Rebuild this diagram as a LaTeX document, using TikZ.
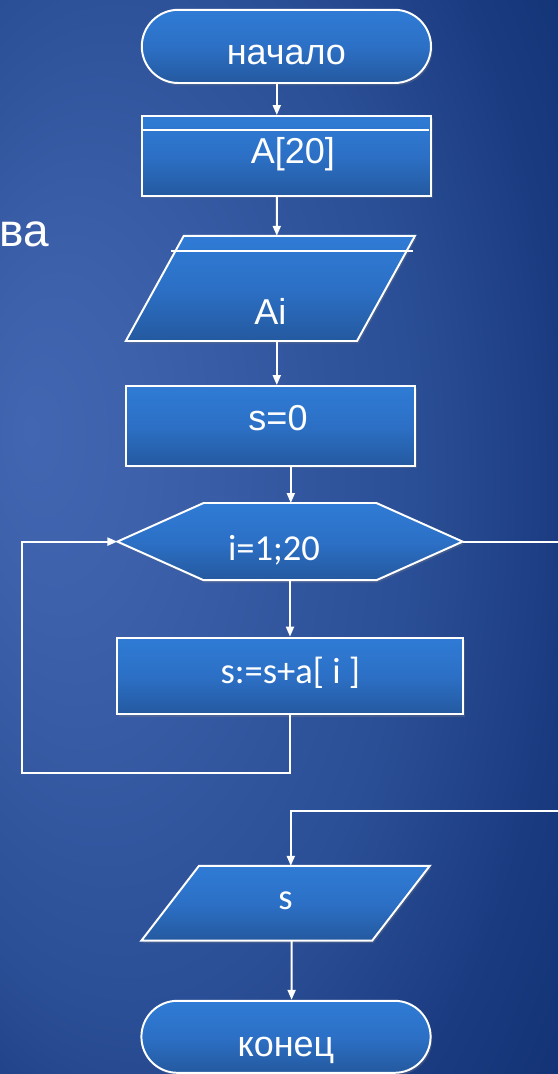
\documentclass[tikz,border=0pt]{standalone}
\usepackage{fontspec}
\setmainfont{Liberation Sans}
\newfontfamily\calibrifont{Carlito}
\usetikzlibrary{shapes.misc,shadows,arrows.meta}

\definecolor{boxtop}{HTML}{2F7BD5}
\definecolor{boxmid}{HTML}{2C70C6}
\definecolor{boxbot}{HTML}{24599F}
\definecolor{bgA}{HTML}{4266B1}
\definecolor{bgB}{HTML}{3D61AB}
\definecolor{bgC}{HTML}{2B4F96}
\definecolor{bgD}{HTML}{1B3B81}
\definecolor{bgE}{HTML}{0F2F70}
\definecolor{bgF}{HTML}{0C2B6A}

\pgfdeclareradialshading{slidebg}{\pgfpoint{-22.5bp}{5bp}}{color(0bp)=(bgA); color(7.5bp)=(bgB); color(25bp)=(bgC); color(35bp)=(bgD); color(45bp)=(bgE); color(60bp)=(bgF)}

\pgfdeclarelayer{bg}
\pgfdeclarelayer{boxes}
\pgfsetlayers{bg,boxes,main}

\begin{document}
\begin{tikzpicture}[
    block/.style={rectangle, draw=white, line width=1.4pt, top color=boxtop, bottom color=boxbot, middle color=boxmid,
      drop shadow={shadow xshift=0.04cm, shadow yshift=-0.06cm, opacity=0.3}, text=white, inner sep=0pt,
      minimum width=7.23cm, minimum height=2cm, text depth=0pt},
    holder/.style={rectangle, inner sep=0pt, outer sep=0pt, text=white, text depth=0pt},
    shapeline/.style={draw=white, line width=1.4pt, top color=boxtop, bottom color=boxbot, middle color=boxmid,
      drop shadow={shadow xshift=0.04cm, shadow yshift=-0.06cm, opacity=0.3}},
    arial/.style={font=\fontsize{25.6}{30}\selectfont},
    calibri/.style={font=\calibrifont\fontsize{26}{30}\selectfont},
    flow/.style={draw=white, line width=1.4pt, -{Triangle[length=0.25cm, width=0.2cm]}}
  ]
  \useasboundingbox (0,0) rectangle (13.95,-26.85);
  \begin{pgfonlayer}{bg}
    \shade[shading=slidebg] (0,0) rectangle (13.95,-26.85);
  \end{pgfonlayer}

  \begin{scope}
    \clip (0,0) rectangle (13.95,-26.85);

    \node[anchor=base west, inner sep=0pt, text=white, font=\fontsize{32.7}{36}\selectfont] (word) at (-0.02,-6.17) {ва};

    \node[block, rounded rectangle, minimum height=1.83cm, arial, text height=0.925cm] (start) at (7.16,-1.16) {начало};
    \node[block, arial, text height=0.365cm] (arr) at (7.16,-3.9) {\hspace*{0.32cm}A[20]};
    \node[holder, minimum width=5.78cm, minimum height=2.63cm, arial, text height=1.825cm] (input) at (6.76,-7.21) {Ai};
    \node[block, arial, text height=0.2cm] (init) at (6.77,-10.65) {\hspace*{0.36cm}s=0};
    \node[holder, minimum width=8.63cm, minimum height=1.93cm, calibri, text height=0.925cm] (loop) at (7.25,-13.54) {i=1;20\hspace*{0.8cm}};
    \node[block, minimum width=8.65cm, minimum height=1.92cm, calibri, text height=0.35cm] (body) at (7.26,-16.9) {s:=s+a[ i ]};
    \node[holder, minimum width=5.77cm, minimum height=1.87cm, calibri, text height=0.33cm] (output) at (7.14,-22.58) {s};
    \node[block, rounded rectangle, minimum height=1.8cm, arial, text height=1cm] (finish) at (7.15,-25.92) {конец};

    % outlines of the slanted and six-sided boxes
    \begin{pgfonlayer}{boxes}
      \path[shapeline] ([xshift=0.725cm]input.north west) -- ([xshift=0.725cm]input.north east)
        -- ([xshift=-0.725cm]input.south east) -- ([xshift=-0.725cm]input.south west) -- cycle;
      \path[shapeline] (loop.west) -- ([xshift=2.155cm]loop.north west) -- ([xshift=-2.155cm]loop.north east)
        -- (loop.east) -- ([xshift=-2.155cm]loop.south east) -- ([xshift=2.155cm]loop.south west) -- cycle;
      \path[shapeline] ([xshift=0.72cm]output.north west) -- ([xshift=0.72cm]output.north east)
        -- ([xshift=-0.72cm]output.south east) -- ([xshift=-0.72cm]output.south west) -- cycle;
    \end{pgfonlayer}
    \draw[white, line width=1pt] ([yshift=-0.375cm]arr.north west) -- ([xshift=-0.08cm,yshift=-0.375cm]arr.north east);
    \draw[white, line width=1pt] ([xshift=0.41cm,yshift=-0.375cm]input.north west) -- ([xshift=0.68cm,yshift=-0.375cm]input.north east);

    \coordinate (back) at (0.55,-19.32);
    \coordinate (exit) at (14.3,-20.27);

    \draw[flow] ([xshift=-0.24cm]start.south) -- ([xshift=-0.24cm]arr.north);
    \draw[flow] ([xshift=-0.24cm]arr.south) -- ([xshift=0.16cm]input.north);
    \draw[flow] ([xshift=0.16cm]input.south) -- ([xshift=0.15cm]init.north);
    \draw[flow] ([xshift=0.5cm]init.south) -- ([xshift=0.02cm]loop.north);
    \draw[flow] (loop.south) -- (loop.south |- body.north);
    \draw[flow] (body.south) |- (back) |- (loop.west);
    \draw[flow] (loop.east) -| (exit) -| ([xshift=0.13cm]output.north);
    \draw[flow] ([xshift=0.15cm]output.south) -- ([xshift=0.14cm]finish.north);
  \end{scope}
\end{tikzpicture}
\end{document}
